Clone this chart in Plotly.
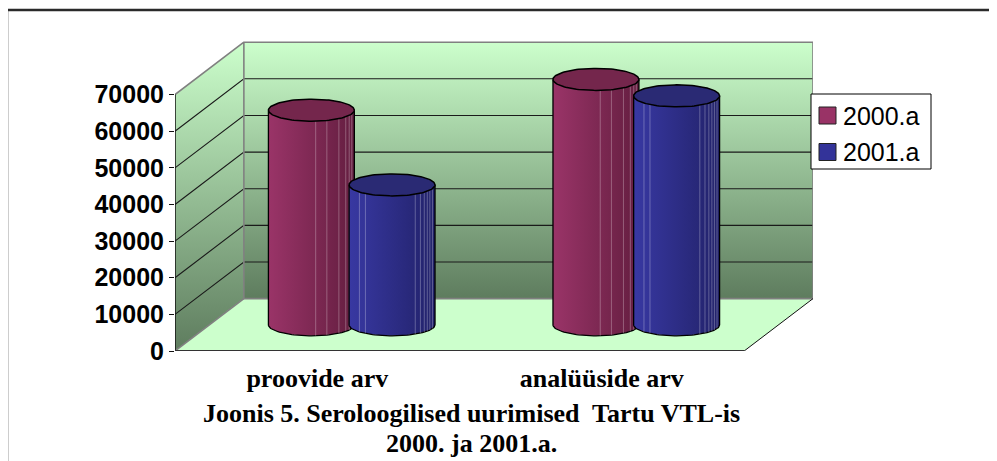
import numpy as np
import plotly.graph_objects as go

# ---------------- data ----------------
categories = ["proovide arv", "analüüside arv"]
series_names = ["2000.a", "2001.a"]
values_2000 = [58600, 67000]
values_2001 = [38200, 62500]
y_tick_values = [0, 10000, 20000, 30000, 40000, 50000, 60000, 70000]
title_line1 = "Joonis 5. Seroloogilised uurimised\u00a0 Tartu VTL-is"
title_line2 = "2000. ja 2001.a."

# ---------------- style / geometry ----------------
Y_AXIS_MAX = 70000
DEPTH_X = 0.242          # oblique depth offset in category units
DEPTH_Y = 14305          # oblique depth offset in value units
Y_RANGE_TOP = 84631
CYL_RX = 0.151
CYL_RY = 3003
CYL_GAP = 0.2835

series_colors = [
    dict(light="#9a3468", dark="#641e40", top="#74264c", legend="#993366"),
    dict(light="#3838a2", dark="#22226a", top="#2a2a74", legend="#333399"),
]
WALL_TOP = "#ccffcc"
WALL_BOTTOM = "#5e7c5e"
FLOOR = "#ccffcc"
EDGE_GRAY = "#808080"
SERIF = "Liberation Serif"
SANS = "Liberation Sans"

# page body has an 8px margin; the figure is sized/placed to compensate
PAGE_OFFSET = 8
FIG_W, FIG_H = 997 - PAGE_OFFSET, 461 - PAGE_OFFSET
PLOT_L, PLOT_R, PLOT_T, PLOT_B = 175, 813, 41, 351   # in screen pixels


def px_to_paper(px, py):
    return (px - PLOT_L) / (PLOT_R - PLOT_L), (PLOT_B - py) / (PLOT_B - PLOT_T)


fig = go.Figure()


def poly(xs, ys, **kw):
    fig.add_trace(go.Scatter(x=xs, y=ys, mode="lines", showlegend=False,
                             hoverinfo="skip", **kw))


n_cat = len(categories)
X_END = n_cat

# side (left) wall
poly([0, 0, DEPTH_X, DEPTH_X, 0], [0, Y_AXIS_MAX, Y_AXIS_MAX + DEPTH_Y, DEPTH_Y, 0],
     fill="toself", line=dict(width=0),
     fillgradient=dict(type="vertical", colorscale=[[0, WALL_BOTTOM], [1, WALL_TOP]]))
# back wall
poly([DEPTH_X, X_END + DEPTH_X, X_END + DEPTH_X, DEPTH_X, DEPTH_X],
     [DEPTH_Y, DEPTH_Y, Y_AXIS_MAX + DEPTH_Y, Y_AXIS_MAX + DEPTH_Y, DEPTH_Y],
     fill="toself", line=dict(width=0),
     fillgradient=dict(type="vertical", colorscale=[[0, WALL_BOTTOM], [1, WALL_TOP]]))
# floor
poly([0, X_END, X_END + DEPTH_X, DEPTH_X, 0], [0, 0, DEPTH_Y, DEPTH_Y, 0],
     fill="toself", fillcolor=FLOOR, line=dict(width=0))

# gridlines on back wall and side wall
gx, gy = [], []
for v in y_tick_values[1:-1]:
    gx += [0, DEPTH_X, X_END + DEPTH_X, None]
    gy += [v, v + DEPTH_Y, v + DEPTH_Y, None]
poly(gx, gy, line=dict(color="#1a1a1a", width=1.1))

# wall edges (gray)
poly([0, DEPTH_X, DEPTH_X, X_END + DEPTH_X, X_END + DEPTH_X, DEPTH_X, None, DEPTH_X, 0],
     [Y_AXIS_MAX, Y_AXIS_MAX + DEPTH_Y, DEPTH_Y, DEPTH_Y, Y_AXIS_MAX + DEPTH_Y, Y_AXIS_MAX + DEPTH_Y, None, DEPTH_Y, 0],
     line=dict(color=EDGE_GRAY, width=1.6))
# floor right edge
poly([X_END, X_END + DEPTH_X], [0, DEPTH_Y], line=dict(color="#111111", width=1))

# cylinders
t = np.linspace(0, 2 * np.pi, 121)
t_low = np.linspace(0, -np.pi, 61)  # right -> bottom -> left (lower half)
stripe_fracs = [[0.55, 0.68, 0.82, 0.9, 0.94, 0.97], [0.12, 0.19, 0.77, 0.83, 0.875, 0.91, 0.94, 0.97]]
all_values = [values_2000, values_2001]
for ci in range(n_cat):
    for si in range(len(series_names)):
        val = all_values[si][ci]
        col = series_colors[si]
        cx = ci + 0.5 + DEPTH_X / 2 + (si - 0.5) * CYL_GAP
        base_c = DEPTH_Y / 2
        top_c = val + DEPTH_Y / 2
        # body
        bx = [cx - CYL_RX, cx + CYL_RX, cx + CYL_RX] + list(cx + CYL_RX * np.cos(t_low)) + [cx - CYL_RX]
        by = [top_c, top_c, base_c] + list(base_c + CYL_RY * np.sin(t_low)) + [top_c]
        poly(bx, by, fill="toself", line=dict(color="black", width=1.3),
             fillgradient=dict(type="horizontal", colorscale=[[0, col["light"]], [1, col["dark"]]]))
        # facet stripes
        sx, sy = [], []
        for f in stripe_fracs[si]:
            x = cx - CYL_RX + 2 * CYL_RX * f
            u = (x - cx) / CYL_RX
            off = CYL_RY * np.sqrt(max(0.0, 1 - u * u))
            sx += [x, x, None]
            sy += [base_c - off, top_c - off, None]
        poly(sx, sy, line=dict(color="rgba(255,255,255,0.28)", width=1))
        # top ellipse
        poly(list(cx + CYL_RX * np.cos(t)), list(top_c + CYL_RY * np.sin(t)),
             fill="toself", fillcolor=col["top"], line=dict(color="black", width=1.5))

# ---------------- shapes ----------------
bx0, by0 = px_to_paper(7, 10)
bx1, by1 = px_to_paper(1010, 470)
shapes = [
    # y axis line
    dict(type="line", xref="x", yref="y", x0=0, x1=0, y0=0, y1=Y_AXIS_MAX,
         line=dict(color="#111111", width=1.5)),
    # front floor edge / x axis
    dict(type="line", xref="x", yref="y", x0=0, x1=X_END, y0=0, y1=0,
         line=dict(color="#333333", width=2)),
    # outer border (top and left)
    dict(type="line", xref="paper", yref="paper", x0=bx0, x1=bx1, y0=by0, y1=by0,
         line=dict(color="#2a2a2a", width=2.5)),
    dict(type="line", xref="paper", yref="paper", x0=bx0, x1=bx0, y0=by0, y1=by1,
         line=dict(color="#3a3a3a", width=2.5)),
]
for b in range(n_cat + 1):
    shapes.append(dict(type="line", xref="x", yref="y", ysizemode="pixel", yanchor=0,
                       x0=b, x1=b, y0=0, y1=-5, line=dict(color="#333333", width=1)))

# legend box (drawn)
lx0, ly0 = px_to_paper(811, 94)
lx1, ly1 = px_to_paper(931, 169)
shapes.append(dict(type="rect", xref="paper", yref="paper", x0=lx0, x1=lx1, y0=ly1, y1=ly0,
                   fillcolor="white", line=dict(color="black", width=1)))
legend_rows_y = [115.5, 152]
annotations = []
for si, name in enumerate(series_names):
    cy = legend_rows_y[si]
    sx0, sy0 = px_to_paper(819, cy - 8.5)
    sx1, sy1 = px_to_paper(836, cy + 8.5)
    shapes.append(dict(type="rect", xref="paper", yref="paper", x0=sx0, x1=sx1, y0=sy1, y1=sy0,
                       fillcolor=series_colors[si]["legend"], line=dict(color="#222222", width=1)))
    tx, ty = px_to_paper(841, cy)
    annotations.append(dict(text=name, xref="paper", yref="paper", x=tx, y=ty,
                            xanchor="left", yanchor="middle", showarrow=False,
                            font=dict(family=SANS, size=25, color="black")))

t1x, t1y = px_to_paper(471.5, 413)
t2x, t2y = px_to_paper(471.5, 443)
annotations += [
    dict(text=title_line1, xref="paper", yref="paper", x=t1x, y=t1y, xanchor="center",
         yanchor="middle", showarrow=False, font=dict(family=SERIF, size=26, color="black", weight="bold")),
    dict(text=title_line2, xref="paper", yref="paper", x=t2x, y=t2y, xanchor="center",
         yanchor="middle", showarrow=False, font=dict(family=SERIF, size=26, color="black", weight="bold")),
]

fig.update_layout(
    width=FIG_W, height=FIG_H,
    margin=dict(l=PLOT_L - PAGE_OFFSET, r=FIG_W - (PLOT_R - PAGE_OFFSET),
                t=PLOT_T - PAGE_OFFSET, b=FIG_H - (PLOT_B - PAGE_OFFSET), pad=0),
    paper_bgcolor="white", plot_bgcolor="rgba(0,0,0,0)",
    showlegend=False,
    xaxis=dict(range=[0, X_END + DEPTH_X], showgrid=False, zeroline=False, showline=False,
               tickmode="array", tickvals=[i + 0.5 for i in range(n_cat)], ticktext=categories,
               ticks="", ticklabelstandoff=9,
               tickfont=dict(family=SERIF, size=26, color="black", weight="bold"),
               fixedrange=True),
    yaxis=dict(range=[0, Y_RANGE_TOP], showgrid=False, zeroline=False, showline=False,
               tickmode="array", tickvals=y_tick_values, ticktext=[str(v) for v in y_tick_values],
               ticks="outside", ticklen=5, tickcolor="#111111", tickwidth=1,
               tickfont=dict(family=SANS, size=25, color="black", weight="bold"),
               fixedrange=True),
    shapes=shapes,
    annotations=annotations,
)

fig.write_html("out.html")
